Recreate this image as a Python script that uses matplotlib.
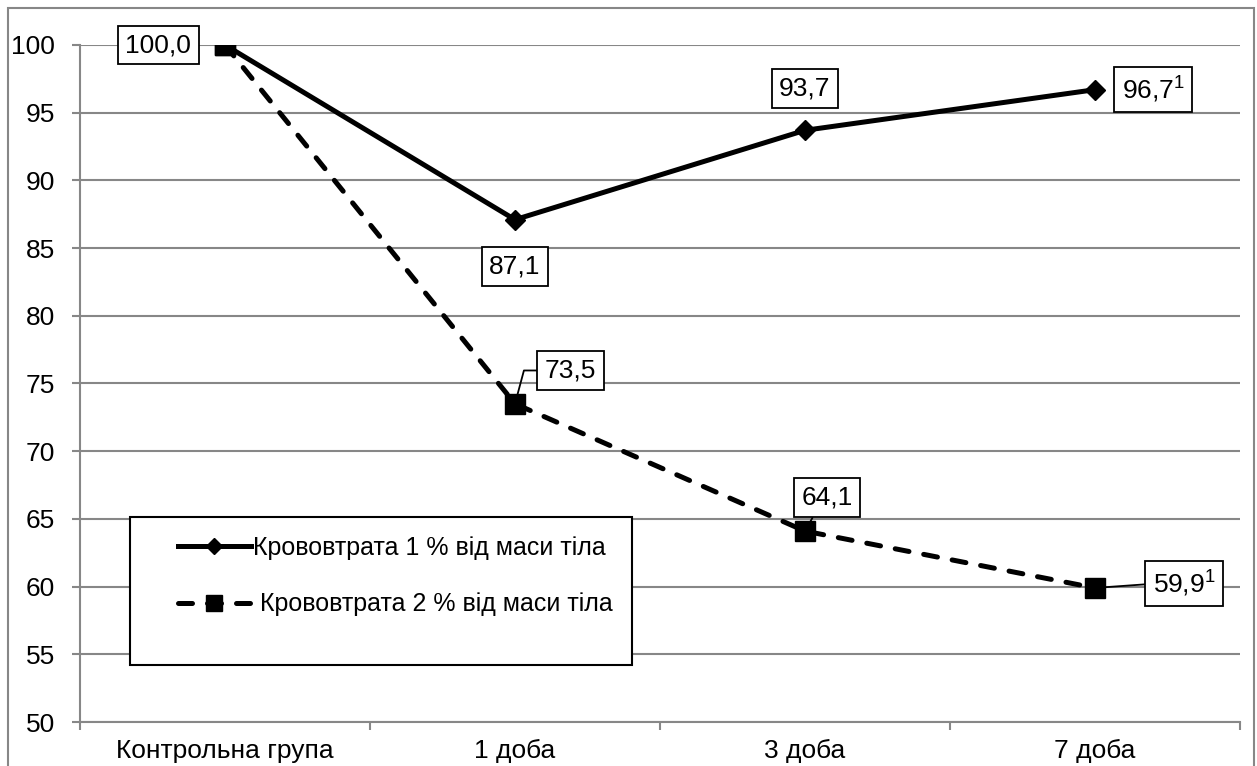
import matplotlib.pyplot as plt
import matplotlib.patches as patches
import numpy as np

plt.rcParams['font.family'] = ['Liberation Sans', 'DejaVu Sans']
plt.rcParams['mathtext.fontset'] = 'custom'
plt.rcParams['mathtext.rm'] = 'Liberation Sans'
plt.rcParams['mathtext.it'] = 'Liberation Sans'
plt.rcParams['mathtext.default'] = 'regular'

# дані
categories = ['Контрольна група', '1 доба', '3 доба', '7 доба']
loss_1 = [100.0, 87.1, 93.7, 96.7]
loss_2 = [100.0, 73.5, 64.1, 59.9]
labels_1 = ['100,0', '87,1', '93,7', '96,7$^{1}$']
labels_2 = ['100,0', '73,5', '64,1', '59,9$^{1}$']
series_names = ['Крововтрата 1 % від маси тіла', ' Крововтрата 2 % від маси тіла']
yticks = np.arange(50, 101, 5)

grey = '#878787'
fs = 19
W, H = 1257, 766

fig = plt.figure(figsize=(W / 100, H / 100), dpi=100)
ax = fig.add_axes([80/W, 44/H, 1160/W, 677/H])

x = np.arange(len(categories))

ax.plot(x, loss_2, color='black', lw=3.6, linestyle=(0, (2.8, 3.0)),
        dash_capstyle='round', marker='s', markersize=14, zorder=3,
        label=series_names[1])
ax.plot(x, loss_1, color='black', lw=3.6, marker='D', markersize=10,
        zorder=4, label=series_names[0])
# квадрат першої точки поверх ромба
ax.plot(x[:1], loss_2[:1], color='black', marker='s', markersize=14,
        linestyle='none', zorder=5)

ax.set_xlim(-0.5, 3.5)
ax.set_ylim(50, 100)
ax.set_yticks(yticks)
ax.set_yticklabels([str(v) for v in yticks])
ax.set_xticks(x)
ax.set_xticklabels(categories)
ax.set_xticks(np.arange(-0.5, 4, 1), minor=True)

ax.tick_params(axis='y', labelsize=fs, length=6, width=1.5, color=grey, pad=12)
ax.tick_params(axis='x', which='major', labelsize=fs, length=0, pad=12)
ax.tick_params(axis='x', which='minor', length=6, width=1.5, color=grey)
ax.grid(axis='y', color=grey, lw=1.5)
ax.set_axisbelow(True)
for side in ['top', 'right']:
    ax.spines[side].set_visible(False)
for side in ['left', 'bottom']:
    ax.spines[side].set_color(grey)
    ax.spines[side].set_linewidth(1.5)

box = dict(boxstyle='square,pad=0.28', fc='white', ec='black', lw=1.3)

def label(text, xi, yi, dx, dy, leader=None):
    arrow = None
    if leader is not None:
        arrow = dict(arrowstyle='-', color='black', lw=1.3, shrinkA=0,
                     shrinkB=0, connectionstyle=leader[0], relpos=leader[1])
    ax.annotate(text, (xi, yi), xytext=(dx, dy), textcoords='offset points',
                ha='center', va='center', fontsize=fs, bbox=box,
                arrowprops=arrow, zorder=6)

# підписи першої серії
label(labels_1[0], x[0], loss_1[0], -48, 0)
label(labels_1[1], x[1], loss_1[1], 0, -34)
label(labels_1[2], x[2], loss_1[2], 0, 30)
label(labels_1[3], x[3], loss_1[3], 42, 0)

# підписи другої серії з виносками
label(labels_2[1], x[1], loss_2[1], 40, 24,
      ('angle,angleA=0,angleB=75,rad=0', (0, 0.5)))
label(labels_2[2], x[2], loss_2[2], 16, 24,
      ('arc3,rad=0', (0.3, 0)))
label(labels_2[3], x[3], loss_2[3], 64, 3,
      ('arc3,rad=0', (0, 0.5)))

# легенда без власної рамки, рамку малюємо окремо
leg = ax.legend(handles=ax.get_lines()[1::-1], loc='upper left',
                bbox_to_anchor=(178/W, 1 - 536/H),
                bbox_transform=fig.transFigure, borderaxespad=0,
                fontsize=18, frameon=False, handlelength=2.9,
                handletextpad=0.1, labelspacing=1.3, borderpad=0,
                markerscale=0.85)
leg.set_zorder(7)
ax.add_patch(patches.Rectangle((130/W, 1 - 665/H), 502/W, 148/H,
                               transform=fig.transFigure, fc='white',
                               ec='black', lw=1.5, zorder=6.5))

# рамка області діаграми
fig.patches.append(patches.Rectangle((8/W, -0.1), 1246/W, 1 - 8/H + 0.1,
                                     transform=fig.transFigure, fill=False,
                                     ec=grey, lw=1.5))

fig.savefig('out.png', dpi=100)
